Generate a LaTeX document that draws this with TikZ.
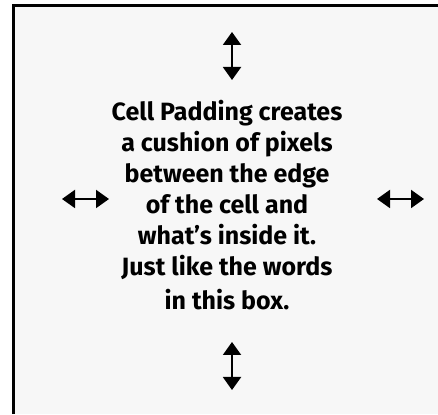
\documentclass[tikz,border=0pt]{standalone}
\usepackage{fontspec}
\setmainfont{Fira Sans}
\usepackage{tikz}
\usetikzlibrary{arrows.meta}
\definecolor{cellgray}{HTML}{F7F7F7}

\begin{document}
\begin{tikzpicture}[
  x=1pt, y=1pt,
  padarrow/.style={{Triangle[width=18pt,length=13pt]}-{Triangle[width=18pt,length=13pt]},
    line width=2pt, black}
]
  \useasboundingbox (0,0) rectangle (438,414);
  \fill[white] (0,0) rectangle (438,414);
  % cell (cropped at right and bottom)
  \fill[cellgray] (13.5,0) rectangle (438,408.5);
  \draw[line width=3pt] (13.5,0) -- (13.5,408.5) -- (438,408.5);

  \node (txt) [align=center, inner sep=0pt,
    font=\fontsize{25}{31}\selectfont\bfseries] at (227,209)
    {Cell Padding creates\\a cushion of pixels\\between the edge\\of the cell and\\what’s inside it.\\Just like the words\\[3pt]in this box.};

  \coordinate (topA) at (232,382);
  \coordinate (topB) at (232,334);
  \coordinate (botA) at (232,72);
  \coordinate (botB) at (232,24);
  \coordinate (lftA) at (62,215);
  \coordinate (lftB) at (109,215);
  \coordinate (rgtA) at (377,215);
  \coordinate (rgtB) at (424,215);

  \draw[padarrow] (topA) -- (topB);
  \draw[padarrow] (botA) -- (botB);
  \draw[padarrow] (lftA) -- (lftB);
  \draw[padarrow] (rgtA) -- (rgtB);
\end{tikzpicture}
\end{document}
